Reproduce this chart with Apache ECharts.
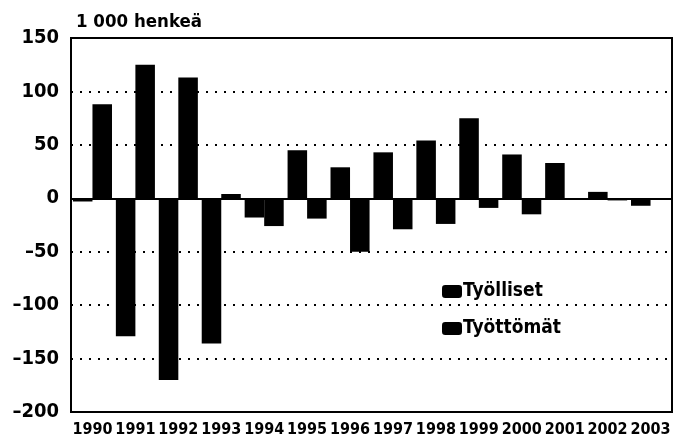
<!DOCTYPE html>
<html>
<head>
<meta charset="utf-8">
<script src="https://cdn.jsdelivr.net/npm/echarts@6/dist/echarts.min.js"></script>
<style>
    html, body {margin: 0; padding: 0; background: #fff;}
    #chart {width: 681px; height: 447px;}
</style>
</head>
<body>
<div id="chart"></div>
<script>
    // data
    var years     = ['1990', '1991', '1992', '1993', '1994', '1995', '1996', '1997', '1998', '1999', '2000', '2001', '2002', '2003'];
    var tyolliset = [-3, -129, -170, -136, -18, 45, 29, 43, 54, 75, 41, 33, 6, -7];
    var tyottomat = [88, 125, 113, 4, -26, -19, -50, -29, -24, -9, -15, -1, -2, -1];

    var font = '"DejaVu Sans Condensed", sans-serif';

    var myChart = echarts.init(document.getElementById('chart'));
    var option  = {
        animation: false,
        title    : {
            text     : '1 000 henkeä',
            left     : 71,
            top      : 8,
            textStyle: {fontFamily: font, fontSize: 18.5, fontWeight: 'bold', color: '#000'}
        },
        legend   : {
            orient    : 'vertical',
            left      : 437,
            top       : 277,
            itemWidth : 20,
            itemHeight: 13,
            itemGap   : 18,
            icon      : 'roundRect',
            textStyle : {fontFamily: font, fontSize: 19, fontWeight: 'bold', color: '#000', padding: [0, 0, 0, -4]},
            data      : ['Työlliset', 'Työttömät']
        },
        grid     : {
            left           : 71,
            right          : 9,
            top            : 38,
            bottom         : 35,
            outerBoundsMode: 'none',
            show           : true,
            borderColor    : '#000',
            borderWidth    : 2
        },
        xAxis    : {
            type     : 'category',
            data     : years,
            axisLine : {onZero: false, lineStyle: {color: '#000', width: 2}},
            axisTick : {inside: true, alignWithLabel: true, length: 6, lineStyle: {color: '#000', width: 2}},
            axisLabel: {interval: 0, margin: 10, fontFamily: font, fontSize: 16, fontWeight: 'bold', color: '#000'}
        },
        yAxis    : {
            type     : 'value',
            min      : -200,
            max      : 150,
            interval : 50,
            axisLine : {show: true, lineStyle: {color: '#000', width: 2}},
            axisTick : {show: false},
            axisLabel: {
                margin    : 12,
                fontFamily: font,
                fontSize  : 20,
                fontWeight: 'bold',
                color     : '#000',
                formatter : function (v) {
                    return String(v).replace('-', '\u2013');
                }
            },
            splitLine: {lineStyle: {color: '#000', width: 2, type: [2, 7]}}
        },
        series   : [
            {
                name          : 'Työlliset',
                type          : 'bar',
                data          : tyolliset,
                barGap        : '0%',
                barCategoryGap: '9%',
                itemStyle     : {color: '#000'},
                markLine      : {
                    silent   : true,
                    symbol   : 'none',
                    label    : {show: false},
                    lineStyle: {color: '#000', width: 2, type: 'solid'},
                    data     : [{yAxis: 0}]
                }
            },
            {
                name     : 'Työttömät',
                type     : 'bar',
                data     : tyottomat,
                itemStyle: {color: '#000'}
            }
        ]
    };

    myChart.setOption(option);
</script>
</body>
</html>
